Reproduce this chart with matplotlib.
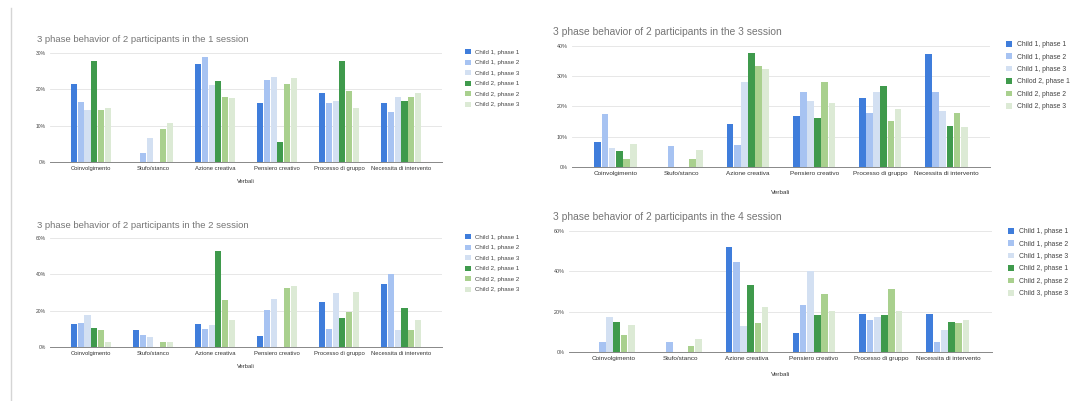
import matplotlib
matplotlib.use('Agg')
import matplotlib.pyplot as plt
import numpy as np
from matplotlib.lines import Line2D

plt.rcParams['font.family'] = ['Liberation Sans', 'DejaVu Sans']

categories = ['Coinvolgimento', 'Stufo/stanco', 'Azione creativa', 'Pensiero creativo',
              'Processo di gruppo', 'Necessita di intervento']

labels = ['Child 1, phase 1', 'Child 1, phase 2', 'Child 1, phase 3',
          'Child 2, phase 1', 'Child 2, phase 2', 'Child 2, phase 3']
labels_s3 = ['Child 1, phase 1', 'Child 1, phase 2', 'Child 1, phase 3',
             'Chilod 2, phase 1', 'Child 2, phase 2', 'Child 2, phase 3']
labels_s4 = ['Child 1, phase 1', 'Child 1, phase 2', 'Child 1, phase 3',
             'Child 2, phase 1', 'Child 2, phase 2', 'Child 3, phase 3']

# values in %, one list per series (child/phase), one value per category
s1 = [
    [21.6, 0.0, 27.1, 16.3, 19.0, 16.3],
    [16.6, 2.5, 28.8, 22.5, 16.3, 13.8],
    [14.4, 6.6, 21.1, 23.3, 16.7, 17.8],
    [27.9, 0.0, 22.4, 5.5, 27.9, 16.7],
    [14.4, 9.0, 17.9, 21.5, 19.6, 17.9],
    [14.8, 10.8, 17.7, 23.0, 14.8, 19.0],
]
s2 = [
    [12.4, 9.4, 12.4, 6.3, 24.9, 34.5],
    [13.1, 6.5, 10.0, 20.1, 10.0, 40.2],
    [17.5, 5.5, 12.0, 26.6, 29.5, 9.2],
    [10.3, 0.0, 52.8, 0.0, 15.9, 21.2],
    [9.6, 3.0, 25.6, 32.5, 19.4, 9.6],
    [3.0, 3.0, 15.1, 33.4, 30.1, 15.1],
]
s3 = [
    [8.4, 0.0, 14.2, 17.0, 22.7, 37.2],
    [17.5, 7.1, 7.2, 24.8, 17.8, 24.8],
    [6.2, 0.0, 28.0, 21.8, 24.8, 18.6],
    [5.2, 0.0, 37.8, 16.1, 26.9, 13.6],
    [2.5, 2.5, 33.4, 28.2, 15.2, 18.0],
    [7.5, 5.6, 32.5, 21.1, 19.2, 13.3],
]
s4 = [
    [0.0, 0.0, 52.1, 9.4, 19.0, 19.0],
    [5.0, 5.0, 44.6, 23.5, 15.7, 5.0],
    [17.4, 0.0, 13.1, 40.0, 17.4, 11.1],
    [14.9, 0.0, 33.4, 18.2, 18.2, 14.9],
    [8.6, 2.8, 14.4, 28.8, 31.4, 14.4],
    [13.6, 6.4, 22.3, 20.2, 20.2, 15.7],
]

colors = ['#3f7ddb', '#a7c3f2', '#d3e0f2', '#3f9a4c', '#a9d08e', '#dcead5']

W, H = 1091, 401
fig = plt.figure(figsize=(W / 100, H / 100), dpi=100)


def px_axes(left, right, top, bottom):
    return fig.add_axes([left / W, 1 - bottom / H, (right - left) / W, (bottom - top) / H])


def panel(data, legend_labels, title, box, ymax, ystep, title_xy, legend_xy, xlabel_y, fs, tfs):
    left, right, top, bottom = box
    ax = px_axes(left, right, top, bottom)
    x = np.arange(len(categories))
    bw = 0.1
    step = 0.108
    for i, vals in enumerate(data):
        ax.bar(x + (i - 2.5) * step, vals, width=bw, color=colors[i], label=legend_labels[i], zorder=3)
    ax.set_xlim(-0.66, 5.66)
    ax.set_ylim(0, ymax)
    ticks = np.arange(0, ymax + 0.1, ystep)
    ax.set_yticks(ticks)
    ax.set_yticklabels(['%d%%' % t for t in ticks], fontsize=fs * 0.85, color='#444444')
    ax.set_xticks(x)
    ax.set_xticklabels(categories, fontsize=fs, color='#333333')
    ax.tick_params(length=0, pad=3)
    ax.grid(axis='y', color='#e3e3e3', linewidth=0.6, zorder=0)
    for s in ['top', 'right', 'left']:
        ax.spines[s].set_visible(False)
    ax.spines['bottom'].set_color('#888888')
    ax.spines['bottom'].set_linewidth(0.7)
    ax.spines['bottom'].set_zorder(4)
    fig.text(title_xy[0] / W, 1 - title_xy[1] / H, title, fontsize=tfs, color='#757575',
             va='center', ha='left')
    fig.text((left + right) / 2 / W, 1 - xlabel_y / H, 'Verbali', fontsize=fs, color='#333333',
             ha='center', va='center')
    ax.legend(loc='upper left', bbox_to_anchor=(legend_xy[0] / W, 1 - legend_xy[1] / H),
              bbox_transform=fig.transFigure, frameon=False, fontsize=fs * 1.05, labelcolor='#444444',
              handlelength=0.9, handleheight=0.9, handletextpad=0.8, labelspacing=0.8,
              borderaxespad=0, borderpad=0)
    return ax


panel(s1, labels, '3 phase behavior of 2 participants in the 1 session',
      (50, 442, 53, 162), 30, 10, (37, 40), (465, 49), 182, 4.2, 6.8)
panel(s2, labels, '3 phase behavior of 2 participants in the 2 session',
      (50, 442, 238, 347), 60, 20, (37, 225), (465, 234), 367, 4.2, 6.8)
panel(s3, labels_s3, '3 phase behavior of 2 participants in the 3 session',
      (572, 990, 46, 167), 40, 10, (553, 32), (1006, 41), 193, 4.6, 7.4)
panel(s4, labels_s4, '3 phase behavior of 2 participants in the 4 session',
      (569, 992, 231, 352), 60, 20, (553, 217), (1008, 228), 375, 4.6, 7.4)

fig.add_artist(Line2D([11.5 / W, 11.5 / W], [0, 1 - 8 / H], transform=fig.transFigure,
                      color='#d5d5d5', linewidth=1))

fig.savefig('out.png', dpi=100)
